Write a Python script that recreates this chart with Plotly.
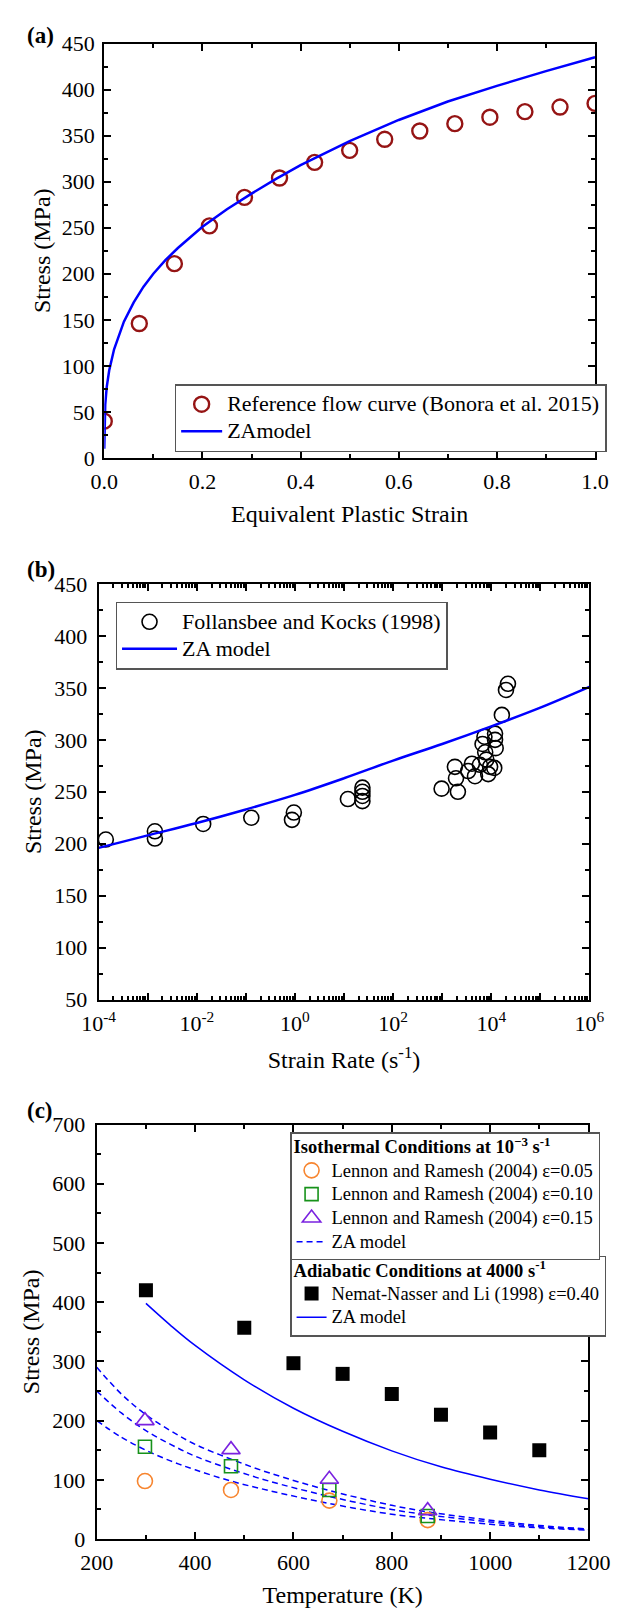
import plotly.graph_objects as go

SERIF = "Liberation Serif, Times New Roman, serif"
W, H = 633, 1621

# ---------------- (a) flow curve ----------------
strain_ref = [0.0, 0.0714, 0.1429, 0.2143, 0.2857, 0.3571, 0.4286, 0.5,
              0.5714, 0.6429, 0.7143, 0.7857, 0.8571, 0.9286, 1.0]
stress_ref = [40, 146, 211, 252, 283, 304, 321, 334, 346, 355, 363, 370, 376, 381, 385]

strain_za = [0.0, 0.002, 0.005, 0.01, 0.02, 0.04, 0.06, 0.08, 0.1, 0.125, 0.15, 0.2,
             0.25, 0.3, 0.35, 0.4, 0.5, 0.6, 0.7, 0.8, 0.9, 1.0]
stress_za = [10, 58, 77, 95, 118, 148, 169, 186, 200, 215, 228, 251,
             270, 287, 303, 318, 344, 367, 387, 404, 420, 435]

# ---------------- (b) strain-rate dependence ----------------
rate_fk = [1.4e-4, 1.4e-3, 1.4e-3, 0.0135, 0.129, 0.95, 0.87, 12, 23.7, 23.7, 23.7, 23.7,
           973, 1816, 1914, 2090, 3380, 4040, 4660, 5870, 6640, 7260, 7520, 7940, 8670,
           9480, 11940, 11940, 12300, 11500, 16440, 19950, 21870]
stress_fk = [204, 212, 205, 219, 225, 230, 223, 243, 254, 250, 246, 241,
             253, 274, 263, 250, 270, 277, 265, 276, 296, 303, 288, 281, 267,
             274, 306, 300, 292, 273, 324, 348, 354]

rate_za = [1e-4, 1e-3, 1e-2, 1e-1, 1e0, 1e1, 1e2, 1e3, 1e4, 1e5, 1e6]
stress_za_rate = [196, 208, 220, 233, 247, 263, 280, 296, 313, 331, 351]

# ---------------- (c) temperature dependence ----------------
temp_lr = [298, 473, 673, 873]
stress_lr05 = [98, 83, 65, 32]
stress_lr10 = [156, 123, 83, 39]
stress_lr15 = [200, 151, 101, 48]

temp_iso = [200, 250, 300, 350, 400, 473, 550, 673, 800, 873, 1000, 1100, 1200]
stress_iso_05 = [200, 172, 150, 132, 117, 98, 82, 60, 42, 35, 25, 19, 15]
stress_iso_10 = [250, 213, 183, 160, 140, 118, 98, 72, 50, 41, 29, 21, 16]
stress_iso_15 = [290, 245, 210, 183, 160, 135, 112, 82, 57, 46, 32, 23, 17]

temp_nn = [300, 500, 600, 700, 800, 900, 1000, 1100]
stress_nn = [420, 357, 297, 279, 245, 210, 180, 150]

temp_adi = [300, 350, 400, 500, 600, 700, 800, 900, 1000, 1100, 1200]
stress_adi = [398, 361, 327, 269, 221, 182, 149, 122, 101, 83, 68]

# ---------------- panel geometry (pixels) ----------------
def xdom(l, r):
    return [l / W, r / W]

def ydom(top, bottom):
    return [1 - bottom / H, 1 - top / H]

def big(text, size):
    # legend rows are spaced by the legend font; entry text is drawn larger
    return '<span style="font-size:%gpx">%s</span>' % (size, text)

MINOR = dict(ticks="inside", ticklen=4, tickwidth=1.5, tickcolor="black", showgrid=False)

def axis_style(**kw):
    base = dict(showline=True, linecolor="black", linewidth=2, mirror="allticks",
                ticks="inside", ticklen=7, tickwidth=1.5, tickcolor="black",
                showgrid=False, zeroline=False,
                tickfont=dict(family=SERIF, size=22, color="black"),
                title_font=dict(family=SERIF, size=24, color="black"))
    base.update(kw)
    return base

fig = go.Figure()

# (a)
fig.add_trace(go.Scatter(
    x=strain_ref, y=stress_ref, mode="markers", xaxis="x", yaxis="y",
    name=big("Reference flow curve (Bonora et al. 2015)", 22), legend="legend",
    marker=dict(symbol="circle-open", size=15, color="#951414", line=dict(width=2.4))))
fig.add_trace(go.Scatter(
    x=strain_za, y=stress_za, mode="lines", xaxis="x", yaxis="y",
    name=big("ZAmodel", 22), legend="legend", line=dict(color="#0000FF", width=2.5)))

# (b)
fig.add_trace(go.Scatter(
    x=rate_fk, y=stress_fk, mode="markers", xaxis="x2", yaxis="y2",
    name=big("Follansbee and Kocks (1998)", 22), legend="legend2",
    marker=dict(symbol="circle-open", size=15, color="black", line=dict(width=1.6))))
fig.add_trace(go.Scatter(
    x=rate_za, y=stress_za_rate, mode="lines", xaxis="x2", yaxis="y2",
    name=big("ZA model", 22), legend="legend2",
    line=dict(color="#0000FF", width=2.5, shape="spline")))

# (c) adiabatic (its legend box sits below the isothermal one)
fig.add_trace(go.Scatter(
    x=temp_nn, y=stress_nn, mode="markers", xaxis="x3", yaxis="y3",
    name=big("Nemat-Nasser and Li (1998) ε=0.40", 18.5), legend="legend3",
    marker=dict(symbol="square", size=14, color="black")))
fig.add_trace(go.Scatter(
    x=temp_adi, y=stress_adi, mode="lines", xaxis="x3", yaxis="y3",
    name=big("ZA model", 18.5), legend="legend3",
    line=dict(color="#0000FF", width=1.5, shape="spline")))

# (c) isothermal
dash_line = dict(color="#0000FF", width=1.5, dash="6px,4px", shape="spline")
for i, ys in enumerate([stress_iso_05, stress_iso_10, stress_iso_15]):
    fig.add_trace(go.Scatter(
        x=temp_iso, y=ys, mode="lines", xaxis="x3", yaxis="y3",
        name=big("ZA model", 18.5), legend="legend4", legendrank=4, showlegend=(i == 0),
        line=dash_line))
fig.add_trace(go.Scatter(
    x=temp_lr, y=stress_lr05, mode="markers", xaxis="x3", yaxis="y3",
    name=big("Lennon and Ramesh (2004) ε=0.05", 18.5), legend="legend4", legendrank=1,
    marker=dict(symbol="circle-open", size=15, color="#F7852F", line=dict(width=1.6))))
fig.add_trace(go.Scatter(
    x=temp_lr, y=stress_lr10, mode="markers", xaxis="x3", yaxis="y3",
    name=big("Lennon and Ramesh (2004) ε=0.10", 18.5), legend="legend4", legendrank=2,
    marker=dict(symbol="square-open", size=13, color="#17921A", line=dict(width=1.6))))
fig.add_trace(go.Scatter(
    x=temp_lr, y=stress_lr15, mode="markers", xaxis="x3", yaxis="y3",
    name=big("Lennon and Ramesh (2004) ε=0.15", 18.5), legend="legend4", legendrank=3,
    marker=dict(symbol="triangle-up-open", size=16, color="#7A22E0", line=dict(width=1.6))))

rate_ticks = [10.0 ** k for k in range(-4, 7)]
rate_text = ["10<sup>%d</sup>" % k if k % 2 == 0 else "" for k in range(-4, 7)]
rate_minor = [m * 10.0 ** k for k in range(-4, 6) for m in range(2, 10)]

legend_base = dict(bgcolor="white", bordercolor="#555555", borderwidth=1.5,
                   xanchor="left", yanchor="top", xref="paper", yref="paper",
                   traceorder="normal", tracegroupgap=0)

fig.update_layout(
    width=W, height=H, margin=dict(l=0, r=0, t=0, b=0),
    paper_bgcolor="white", plot_bgcolor="white",
    font=dict(family=SERIF, color="black"),
    xaxis=axis_style(domain=xdom(93, 616), anchor="y", range=[0, 1], dtick=0.2, tick0=0,
                     tickformat=".1f", minor=dict(dtick=0.1, **MINOR), ticklabelstandoff=3,
                     title=dict(text="Equivalent Plastic Strain", standoff=12)),
    yaxis=axis_style(domain=ydom(32, 453), anchor="x", range=[0, 450], dtick=50, tick0=0,
                     minor=dict(dtick=25, **MINOR), ticklabelstandoff=3,
                     title=dict(text="Stress (MPa)", standoff=4)),
    xaxis2=axis_style(domain=xdom(87, 610), anchor="y2", type="log", range=[-4, 6],
                      tickmode="array", tickvals=rate_ticks, ticktext=rate_text,
                      minor=dict(tickmode="array", tickvals=rate_minor, **MINOR),
                      ticklabelstandoff=3,
                      title=dict(text="Strain Rate (s<sup>-1</sup>)", standoff=16)),
    yaxis2=axis_style(domain=ydom(581, 1003), anchor="x2", range=[50, 450], dtick=50, tick0=0,
                      minor=dict(dtick=25, **MINOR), ticklabelstandoff=5,
                      title=dict(text="Stress (MPa)", standoff=6)),
    xaxis3=axis_style(domain=xdom(85, 609), anchor="y3", range=[200, 1200], dtick=200, tick0=0,
                      minor=dict(dtick=100, **MINOR), ticklabelstandoff=3,
                      title=dict(text="Temperature (K)", standoff=12)),
    yaxis3=axis_style(domain=ydom(1130, 1551), anchor="x3", range=[0, 700], dtick=100, tick0=0,
                      minor=dict(dtick=50, **MINOR), ticklabelstandoff=5,
                      title=dict(text="Stress (MPa)", standoff=6)),
    legend=dict(legend_base, x=168 / W, y=1 - 378 / H, itemwidth=41,
                font=dict(family=SERIF, size=18.5, color="black")),
    legend2=dict(legend_base, x=105 / W, y=1 - 599 / H, itemwidth=55,
                 font=dict(family=SERIF, size=18.5, color="black")),
    legend3=dict(legend_base, x=291 / W, y=1 - 1263 / H, itemwidth=30,
                 font=dict(family=SERIF, size=16, color="black"),
                 title=dict(text=big("<b>Adiabatic Conditions at 4000 s<sup>-1</sup></b>", 18.5),
                            font=dict(family=SERIF, size=15, color="black"))),
    legend4=dict(legend_base, x=291 / W, y=1 - 1138 / H, itemwidth=30,
                 font=dict(family=SERIF, size=16, color="black"),
                 title=dict(text=big("<b>Isothermal Conditions at 10<sup>−3</sup> s<sup>-1</sup></b>", 18.5),
                            font=dict(family=SERIF, size=15, color="black"))),
)

for label, ypx in [("(a)", 24), ("(b)", 566), ("(c)", 1116)]:
    fig.add_annotation(text="<b>%s</b>" % label, x=8 / W, y=1 - ypx / H,
                       xref="paper", yref="paper", xanchor="left", yanchor="middle",
                       showarrow=False, font=dict(family=SERIF, size=23, color="black"))

fig.write_html("out.html")
